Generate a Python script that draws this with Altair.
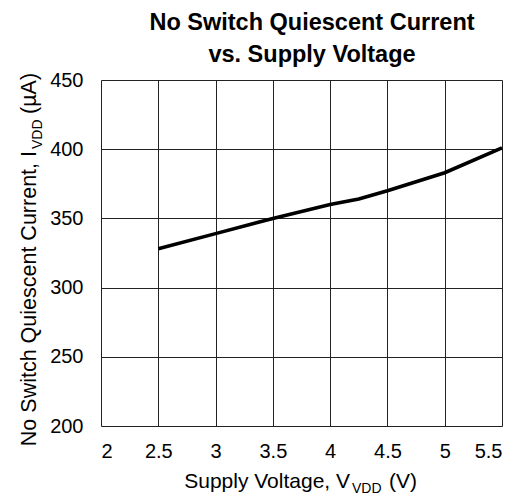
import altair as alt
import pandas as pd

# Data
volts = [2.5, 3.0, 3.5, 4.0, 4.25, 4.5, 5.0, 5.5]
current = [328, 339, 350, 360, 364, 370, 383, 401]

x_ticks = [2, 2.5, 3, 3.5, 4, 4.5, 5, 5.5]
y_ticks = [200, 250, 300, 350, 400, 450]

title_lines = ["No Switch Quiescent Current", "vs. Supply Voltage"]
x_title_parts = ["Supply Voltage, V", "VDD", "(V)"]
y_title_parts = ["No Switch Quiescent Current, I", "VDD", "(µA)"]

FONT = "Liberation Sans, Arial, Helvetica, sans-serif"

df = pd.DataFrame({"v": volts, "i": current})

line = alt.Chart(df).mark_line(color="black", strokeWidth=3.6).encode(
    x=alt.X("v:Q",
            scale=alt.Scale(domain=[2, 5.5], nice=False, zero=False),
            axis=alt.Axis(values=x_ticks, format="~g", title=None,
                          grid=True, gridColor="#222", gridWidth=1,
                          ticks=False, domain=False,
                          labelFont=FONT, labelFontSize=20, labelColor="black",
                          labelPadding=15)),
    y=alt.Y("i:Q",
            scale=alt.Scale(domain=[200, 450], nice=False, zero=False),
            axis=alt.Axis(values=y_ticks, title=None,
                          grid=True, gridColor="#222", gridWidth=1,
                          ticks=False, domain=False,
                          labelFont=FONT, labelFontSize=20, labelColor="black",
                          labelPadding=18)),
)


def txt(s, x, y, size, align="left", bold=False, angle=0):
    kw = dict(align=align, baseline="alphabetic", font=FONT, fontSize=size,
              color="black", fontWeight="bold" if bold else "normal")
    if angle:
        kw["angle"] = angle
    return alt.Chart(pd.DataFrame({"t": [s]})).mark_text(**kw).encode(
        text="t:N", x=alt.value(x), y=alt.value(y))


layers = [
    line,
    txt(title_lines[0], 211, -50, 23.5, align="center", bold=True),
    txt(title_lines[1], 211, -18, 23.5, align="center", bold=True),
    txt(x_title_parts[0], 249, 408, 21, align="right"),
    txt(x_title_parts[1], 251, 413, 14, align="left"),
    txt(x_title_parts[2], 288, 408, 21, align="left"),
    txt(y_title_parts[0], -65, 71, 21.5, align="right", angle=270),
    txt(y_title_parts[1], -59, 69, 14, align="left", angle=270),
    txt(y_title_parts[2], -65, 34, 21.5, align="left", angle=270),
]

chart = alt.layer(*layers).properties(
    width=401, height=346,
    autosize=alt.AutoSizeParams(type="none"),
    padding={"left": 93, "top": 72, "right": 8, "bottom": 70},
).configure_view(stroke="black", strokeWidth=2).configure(background="white")

chart.save("out.html", embed_options={"renderer": "svg", "actions": False})
